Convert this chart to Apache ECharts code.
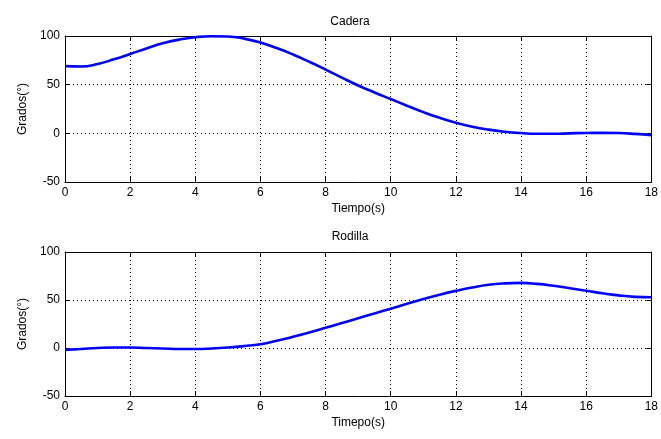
<!DOCTYPE html>
<html><head><meta charset="utf-8">
<script src="https://cdn.jsdelivr.net/npm/echarts@6/dist/echarts.min.js"></script>
<style>html,body{margin:0;padding:0;background:#fff}#c{width:661px;height:439px}</style>
</head><body><div id="c"></div>
<script>
var tiempo = [0,0.5,1,1.5,2,2.5,3,3.5,4,4.5,5,5.5,6,6.5,7,7.5,8,8.5,9,9.5,10,10.5,11,11.5,12,12.5,13,13.5,14,14.5,15,15.5,16,16.5,17,17.5,18];
var cadera = [69,68.6,71.2,76,81.5,87.2,92.5,96.3,98.8,99.8,99.5,97.3,93.3,87.6,81,73.5,65.5,57.2,49.2,42,35.2,28.4,21.8,15.9,10.8,6.8,3.8,1.7,0.3,-0.5,-0.5,0,0.4,0.5,0.3,-0.6,-2];
var rodilla = [-2,-1,0,0.5,0.5,0,-0.5,-1,-1,-0.5,0.5,2,4,7.5,11.6,16.1,21,26,31,36,41,46,51,55.5,59.5,63,65.8,67.3,67.8,66.8,64.8,62.3,59.7,57,54.8,53.3,52.8];
var titulos = ['Cadera','Rodilla'];
var nombresX = ['Tiempo(s)','Timepo(s)'];
var nombreY = 'Grados(°)';

var font = 'Liberation Sans, Arial, sans-serif';
function pairs(ys){ return tiempo.map(function(t,i){ return [t, ys[i]]; }); }
var lineBlack = {show:true,onZero:false,lineStyle:{color:'#000',width:1}};
var tickIn = {show:true,inside:true,length:5,lineStyle:{color:'#000'}};
var dotted = {show:true,lineStyle:{color:'#000',type:[1,3],width:1}};
function xAxes(g){
  return [{
    type:'value', gridIndex:g, min:0, max:18, interval:2, position:'bottom',
    name:nombresX[g], nameLocation:'middle', nameGap:21,
    nameTextStyle:{color:'#000',fontFamily:font,fontSize:12},
    axisLine:lineBlack, axisTick:tickIn,
    axisLabel:{color:'#000',fontFamily:font,fontSize:12,margin:5},
    splitLine:dotted
  },{
    type:'value', gridIndex:g, min:0, max:18, interval:2, position:'top',
    axisLine:lineBlack, axisTick:tickIn,
    axisLabel:{show:false}, splitLine:{show:false}
  }];
}
function yAxes(g){
  return [{
    type:'value', gridIndex:g, min:-50, max:100, interval:50, position:'left',
    name:nombreY, nameLocation:'middle', nameGap:32, nameRotate:90,
    nameTextStyle:{color:'#000',fontFamily:font,fontSize:12},
    axisLine:lineBlack, axisTick:tickIn,
    axisLabel:{color:'#000',fontFamily:font,fontSize:12,margin:5},
    splitLine:dotted
  },{
    type:'value', gridIndex:g, min:-50, max:100, interval:50, position:'right',
    axisLine:lineBlack, axisTick:tickIn,
    axisLabel:{show:false}, splitLine:{show:false}
  }];
}
var chart = echarts.init(document.getElementById('c'), null, {renderer:'canvas'});
chart.setOption({
  backgroundColor:'#fff',
  animation:false,
  title:[
    {text:titulos[0], left:345, top:11, textAlign:'center', textStyle:{fontFamily:font,fontSize:12,fontWeight:'normal',color:'#000'}},
    {text:titulos[1], left:345, top:226, textAlign:'center', textStyle:{fontFamily:font,fontSize:12,fontWeight:'normal',color:'#000'}}
  ],
  grid:[
    {left:65, right:9, top:36, height:146},
    {left:65, right:9, top:252, height:144}
  ],
  xAxis: xAxes(0).concat(xAxes(1)),
  yAxis: yAxes(0).concat(yAxes(1)),
  series:[
    {type:'line', xAxisIndex:0, yAxisIndex:0, data:pairs(cadera), smooth:0.5, showSymbol:false, lineStyle:{color:'#0000ff',width:2.6}},
    {type:'line', xAxisIndex:2, yAxisIndex:2, data:pairs(rodilla), smooth:0.5, showSymbol:false, lineStyle:{color:'#0000ff',width:2.6}}
  ]
});
</script></body></html>
